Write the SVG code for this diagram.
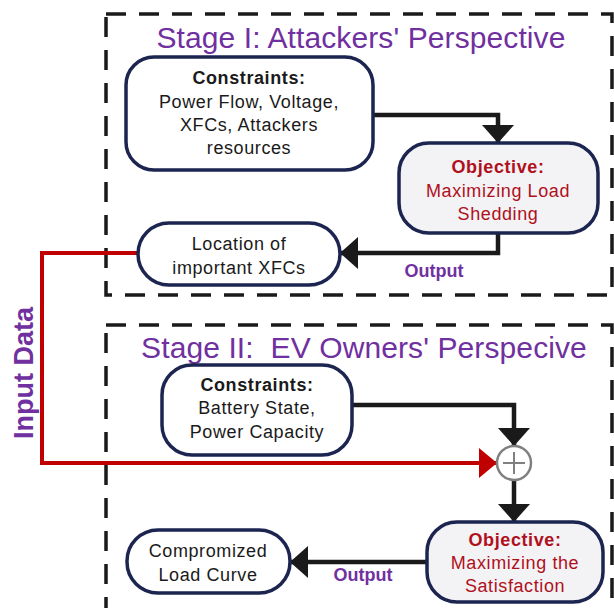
<svg xmlns="http://www.w3.org/2000/svg" width="614" height="608" viewBox="0 0 614 608">
<style>
.stage{fill:none;stroke:#1a1a1a;stroke-width:3.5;stroke-dasharray:20 13}
.title{font-family:"Liberation Sans",Arial,sans-serif;font-size:30px;fill:#7030a0;text-anchor:middle;white-space:pre}
.box{fill:#fff;stroke:#1c2450;stroke-width:3.5}
.obj{fill:#f3f3f6;stroke:#1c2450;stroke-width:3.5}
.t{font-family:"Liberation Sans",Arial,sans-serif;font-size:18px;fill:#1a1a1a;text-anchor:middle;letter-spacing:0.6px}
.b{font-weight:bold}
.r{fill:#b0101c}
.lbl{font-family:"Liberation Sans",Arial,sans-serif;font-weight:bold;fill:#7030a0;text-anchor:middle}
.wire{fill:none;stroke:#1a1a1a;stroke-width:4.5}
.red{fill:none;stroke:#c00000;stroke-width:4}
</style>
<defs>
<marker id="ah" markerUnits="userSpaceOnUse" markerWidth="18" markerHeight="32" refX="18" refY="16" orient="auto">
<path d="M0,0 L18,16 L0,32 Z" fill="#1a1a1a"/>
</marker>
<marker id="ahr" markerUnits="userSpaceOnUse" markerWidth="18" markerHeight="30" refX="18" refY="15" orient="auto">
<path d="M0,0 L18,15 L0,30 Z" fill="#c00000"/>
</marker>
</defs>
<rect class="stage" x="106" y="14" width="506" height="281"/>
<rect class="stage" x="106" y="325" width="506" height="300"/>
<text class="title" x="361" y="48" letter-spacing="0.1">Stage I: Attackers' Perspective</text>
<text class="title" x="364" y="358" letter-spacing="0.1" xml:space="preserve">Stage II:  EV Owners' Perspecive</text>
<g id="connectors">
<path class="wire" d="M373,115 H498 V143" marker-end="url(#ah)"/>
<path class="wire" d="M498,233 V253 H340" marker-end="url(#ah)"/>
<path class="red" d="M138,253 H42 V463 H497" marker-end="url(#ahr)"/>
<path class="wire" d="M352,405 H514 V446" marker-end="url(#ah)"/>
<path class="wire" d="M514,480 V522" marker-end="url(#ah)"/>
<path class="wire" d="M427,562 H290" marker-end="url(#ah)"/>
<text class="lbl" x="434" y="277" font-size="18">Output</text>
<text class="lbl" x="363" y="581" font-size="18">Output</text>
<text class="lbl" font-size="27" transform="translate(33,373) rotate(-90)">Input Data</text>
</g>
<g id="sum">
<circle cx="514" cy="463" r="17" fill="#fff" stroke="#808080" stroke-width="2.5"/>
<path d="M503,463 H525 M514,452 V474" stroke="#808080" stroke-width="2"/>
</g>
<g id="constraints1">
<rect class="box" x="126" y="57" width="247" height="113" rx="28"/>
<text class="t b" x="249" y="84">Constraints:</text>
<text class="t" x="249" y="108">Power Flow, Voltage,</text>
<text class="t" x="249" y="131">XFCs, Attackers</text>
<text class="t" x="249" y="154">resources</text>
</g>
<g id="objective1">
<rect class="obj" x="399" y="143" width="199" height="90" rx="30"/>
<text class="t b r" x="498" y="173">Objective:</text>
<text class="t r" x="498" y="197">Maximizing Load</text>
<text class="t r" x="498" y="220">Shedding</text>
</g>
<g id="location">
<rect class="box" x="138" y="223" width="202" height="62" rx="31"/>
<text class="t" x="239" y="250">Location of</text>
<text class="t" x="239" y="274">important XFCs</text>
</g>
<g id="constraints2">
<rect class="box" x="162" y="365" width="190" height="90" rx="30"/>
<text class="t b" x="257" y="391">Constraints:</text>
<text class="t" x="257" y="414">Battery State,</text>
<text class="t" x="257" y="438">Power Capacity</text>
</g>
<g id="objective2">
<rect class="obj" x="427" y="522" width="176" height="80" rx="30"/>
<text class="t b r" x="515" y="546">Objective:</text>
<text class="t r" x="515" y="569">Maximizing the</text>
<text class="t r" x="515" y="592">Satisfaction</text>
</g>
<g id="compromized">
<rect class="box" x="127" y="530" width="163" height="63" rx="31"/>
<text class="t" x="208" y="557">Compromized</text>
<text class="t" x="208" y="581">Load Curve</text>
</g>
</svg>
